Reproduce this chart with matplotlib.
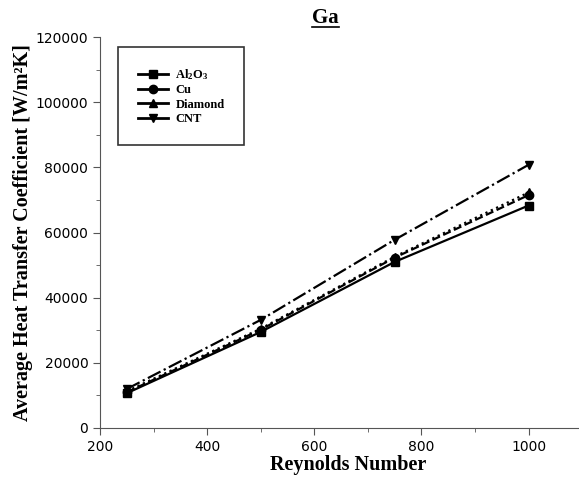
import matplotlib.pyplot as plt
from matplotlib.lines import Line2D
from matplotlib.ticker import MultipleLocator

reynolds = [250, 500, 750, 1000]
al2o3 = [10700, 29500, 51000, 68300]
cu = [11000, 30200, 52300, 71500]
diamond = [11300, 30500, 52600, 72300]
cnt = [12000, 33200, 57800, 80800]

names = ["Al$_2$O$_3$", "Cu", "Diamond", "CNT"]
series = [al2o3, cu, diamond, cnt]
markers = ["s", "o", "^", "v"]
styles = ["-", "--", ":", "-."]

plt.rcParams["mathtext.fontset"] = "custom"
plt.rcParams["mathtext.rm"] = "Liberation Serif:bold"
plt.rcParams["mathtext.it"] = "Liberation Serif:bold"
plt.rcParams["mathtext.bf"] = "Liberation Serif:bold"

fig = plt.figure(figsize=(5.79, 4.79), dpi=100)
ax = fig.add_axes([0.173, 0.1065, 0.825, 0.816])

for vals, m, ls in zip(series, markers, styles):
    ax.plot(reynolds, vals, color="black", linestyle=ls, linewidth=1.6,
            marker=m, markersize=6)

ax.set_xlim(200, 1092)
ax.set_ylim(0, 120000)
ax.xaxis.set_major_locator(MultipleLocator(200))
ax.xaxis.set_minor_locator(MultipleLocator(100))
ax.yaxis.set_major_locator(MultipleLocator(20000))
ax.yaxis.set_minor_locator(MultipleLocator(10000))
ax.tick_params(which="both", direction="out", labelsize=10, color="#555555")
ax.tick_params(which="major", length=5)
ax.tick_params(which="minor", length=3)
ax.spines["top"].set_visible(False)
ax.spines["right"].set_visible(False)
for s in ["left", "bottom"]:
    ax.spines[s].set_color("#555555")

serif = {"family": "Liberation Serif", "weight": "bold"}
ax.set_xlabel("Reynolds Number", fontdict=dict(serif, size=14.5))
ax.xaxis.set_label_coords(0.52, -0.07)
ax.set_ylabel("Average Heat Transfer Coefficient [W/m\u00b2K]",
              fontdict=dict(serif, size=14.5), labelpad=2)

# legend shows plain solid lines with the markers
handles = [Line2D([], [], color="black", linestyle="-", linewidth=2,
                  marker=m, markersize=6) for m in markers]
leg = ax.legend(handles, names, loc="upper left", bbox_to_anchor=(0.037, 0.975),
                prop={"family": "Liberation Serif", "weight": "bold", "size": 9},
                frameon=True, fancybox=False, edgecolor="black",
                borderpad=1.6, handlelength=2.4, labelspacing=0.2,
                handletextpad=0.6, borderaxespad=0)
leg.get_frame().set_linewidth(1.2)

# underlined title
title = fig.text(0.562, 0.962, "Ga", ha="center", va="center",
                 fontdict=dict(serif, size=15))
fig.canvas.draw()
bb = title.get_window_extent().transformed(fig.transFigure.inverted())
fig.add_artist(Line2D([bb.x0, bb.x1], [bb.y0 + 0.002, bb.y0 + 0.002],
                      transform=fig.transFigure, color="black", linewidth=1.2))

fig.savefig("out.png", dpi=100)
